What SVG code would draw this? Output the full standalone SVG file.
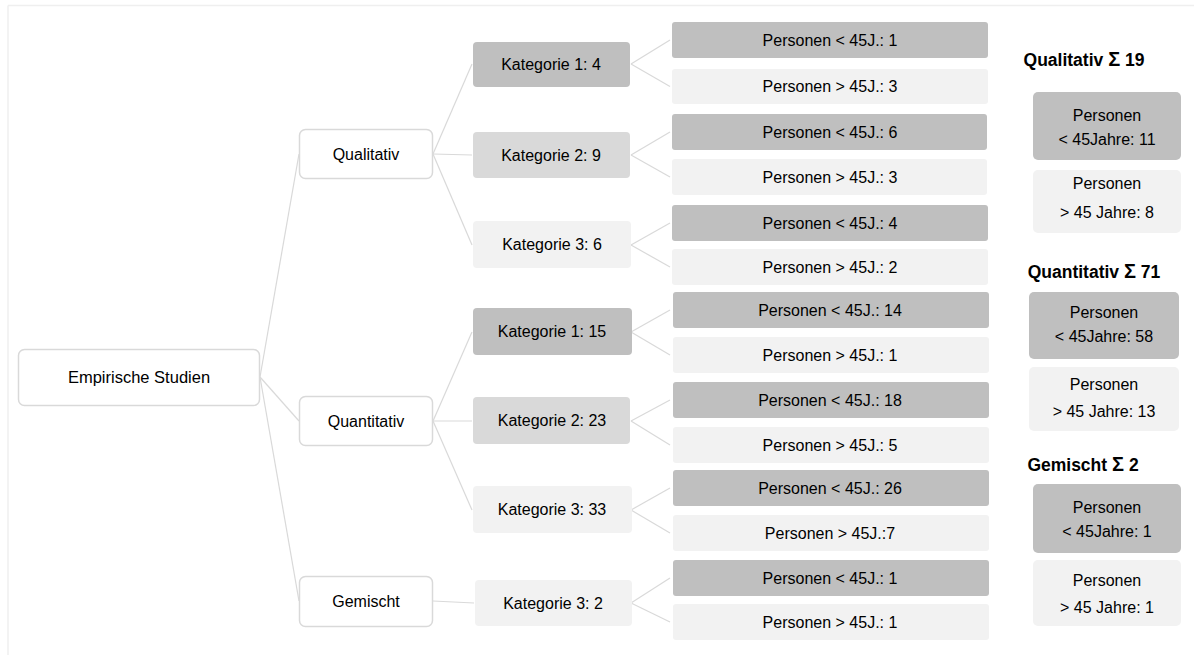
<svg xmlns="http://www.w3.org/2000/svg" width="1194" height="655" viewBox="0 0 1194 655">
<defs>
<style>
.t{font-family:"Liberation Sans",Arial,sans-serif;font-size:16px;fill:#000;text-anchor:middle}
.h{font-family:"Liberation Sans",Arial,sans-serif;font-size:17.5px;font-weight:bold;fill:#000;text-anchor:middle}
.s{font-size:20px}
.w{fill:#fff;stroke:#d9d9d9;stroke-width:1.5}
.d{fill:#bfbfbf}
.m{fill:#d9d9d9}
.l{fill:#f2f2f2}
.c line{stroke:#d9d9d9;stroke-width:1.2}
</style>
</defs>
<rect width="1194" height="655" fill="#fff"/>
<g id="frame" stroke="#efefef" stroke-width="1.5">
<line x1="8" y1="5.5" x2="1194" y2="5.5"/>
<line x1="8" y1="5.5" x2="8" y2="655"/>
</g>
<g id="connectors" class="c">
<line x1="260" y1="377" x2="299" y2="154"/>
<line x1="260" y1="377" x2="299" y2="421"/>
<line x1="260" y1="377" x2="299" y2="601"/>
<line x1="433" y1="154" x2="472" y2="64"/>
<line x1="433" y1="154" x2="472" y2="155"/>
<line x1="433" y1="154" x2="472" y2="245"/>
<line x1="433" y1="421" x2="472" y2="332"/>
<line x1="433" y1="421" x2="472" y2="421"/>
<line x1="433" y1="421" x2="472" y2="510"/>
<line x1="433" y1="601" x2="474" y2="603"/>
<line x1="631" y1="64" x2="670" y2="40"/>
<line x1="631" y1="64" x2="670" y2="86.5"/>
<line x1="631" y1="155" x2="670" y2="132"/>
<line x1="631" y1="155" x2="670" y2="177"/>
<line x1="631" y1="245" x2="670" y2="223"/>
<line x1="631" y1="245" x2="670" y2="267"/>
<line x1="631" y1="332" x2="670" y2="310"/>
<line x1="631" y1="332" x2="670" y2="355"/>
<line x1="631" y1="421" x2="670" y2="400"/>
<line x1="631" y1="421" x2="670" y2="445"/>
<line x1="631" y1="510" x2="670" y2="488"/>
<line x1="631" y1="510" x2="670" y2="533"/>
<line x1="631" y1="603" x2="670" y2="578"/>
<line x1="631" y1="603" x2="670" y2="622"/>
</g>
<g id="root"><rect class="w" x="18.5" y="349.5" width="241" height="56" rx="6"/><text class="t" x="139" y="383" style="font-size:16.5px">Empirische Studien</text></g>
<g id="qual"><rect class="w" x="299.5" y="129.5" width="133" height="49" rx="6"/><text class="t" x="366" y="160">Qualitativ</text></g>
<g id="quant"><rect class="w" x="299.5" y="396.5" width="133" height="49" rx="6"/><text class="t" x="366" y="427">Quantitativ</text></g>
<g id="gem"><rect class="w" x="299.5" y="576.5" width="133" height="50" rx="6"/><text class="t" x="366" y="607">Gemischt</text></g>
<g id="k1q"><rect class="d" x="473" y="42" width="157" height="45" rx="4"/><text class="t" x="551" y="70">Kategorie 1: 4</text></g>
<g id="k2q"><rect class="m" x="473" y="132" width="157" height="46" rx="4"/><text class="t" x="551" y="161">Kategorie 2: 9</text></g>
<g id="k3q"><rect class="l" x="473" y="221" width="158" height="47" rx="4"/><text class="t" x="552" y="250">Kategorie 3: 6</text></g>
<g id="k1n"><rect class="d" x="473" y="308" width="159" height="47" rx="4"/><text class="t" x="552" y="337">Kategorie 1: 15</text></g>
<g id="k2n"><rect class="m" x="473" y="397" width="157" height="47" rx="4"/><text class="t" x="552" y="426">Kategorie 2: 23</text></g>
<g id="k3n"><rect class="l" x="473" y="486" width="159" height="47" rx="4"/><text class="t" x="552" y="515">Kategorie 3: 33</text></g>
<g id="k3g"><rect class="l" x="475" y="580" width="157" height="46" rx="4"/><text class="t" x="553" y="609">Kategorie 3: 2</text></g>
<g id="p1"><rect class="d" x="672" y="22" width="316" height="36" rx="3"/><text class="t" x="830" y="45.5">Personen &lt; 45J.: 1</text></g>
<g id="p2"><rect class="l" x="672" y="69" width="316" height="35" rx="3"/><text class="t" x="830" y="92">Personen &gt; 45J.: 3</text></g>
<g id="p3"><rect class="d" x="672" y="114" width="315" height="36" rx="3"/><text class="t" x="830" y="137.5">Personen &lt; 45J.: 6</text></g>
<g id="p4"><rect class="l" x="672" y="159" width="315" height="36" rx="3"/><text class="t" x="830" y="182.5">Personen &gt; 45J.: 3</text></g>
<g id="p5"><rect class="d" x="672" y="205" width="316" height="36" rx="3"/><text class="t" x="830" y="228.5">Personen &lt; 45J.: 4</text></g>
<g id="p6"><rect class="l" x="672" y="249" width="316" height="36" rx="3"/><text class="t" x="830" y="272.5">Personen &gt; 45J.: 2</text></g>
<g id="p7"><rect class="d" x="673" y="292" width="316" height="36" rx="3"/><text class="t" x="830" y="315.5">Personen &lt; 45J.: 14</text></g>
<g id="p8"><rect class="l" x="673" y="337" width="316" height="36" rx="3"/><text class="t" x="830" y="360.5">Personen &gt; 45J.: 1</text></g>
<g id="p9"><rect class="d" x="673" y="382" width="316" height="36" rx="3"/><text class="t" x="830" y="405.5">Personen &lt; 45J.: 18</text></g>
<g id="p10"><rect class="l" x="673" y="427" width="316" height="36" rx="3"/><text class="t" x="830" y="450.5">Personen &gt; 45J.: 5</text></g>
<g id="p11"><rect class="d" x="673" y="470" width="316" height="36" rx="3"/><text class="t" x="830" y="493.5">Personen &lt; 45J.: 26</text></g>
<g id="p12"><rect class="l" x="673" y="515" width="316" height="36" rx="3"/><text class="t" x="830" y="538.5">Personen &gt; 45J.:7</text></g>
<g id="p13"><rect class="d" x="673" y="560" width="316" height="36" rx="3"/><text class="t" x="830" y="583.5">Personen &lt; 45J.: 1</text></g>
<g id="p14"><rect class="l" x="673" y="604" width="316" height="36" rx="3"/><text class="t" x="830" y="627.5">Personen &gt; 45J.: 1</text></g>
<g id="sumQual"><text class="h" x="1084" y="66">Qualitativ <tspan class="s">Σ</tspan> 19</text>
<rect class="d" x="1033" y="92" width="148" height="68" rx="5"/><text class="t" x="1107" y="121">Personen</text><text class="t" x="1107" y="145">&lt; 45Jahre: 11</text>
<rect class="l" x="1033" y="170" width="148" height="63" rx="5"/><text class="t" x="1107" y="189">Personen</text><text class="t" x="1107" y="218">&gt; 45 Jahre: 8</text></g>
<g id="sumQuant"><text class="h" x="1094" y="278">Quantitativ <tspan class="s">Σ</tspan> 71</text>
<rect class="d" x="1029" y="292" width="150" height="67" rx="5"/><text class="t" x="1104" y="318">Personen</text><text class="t" x="1104" y="342">&lt; 45Jahre: 58</text>
<rect class="l" x="1029" y="367" width="150" height="64" rx="5"/><text class="t" x="1104" y="390">Personen</text><text class="t" x="1104" y="417">&gt; 45 Jahre: 13</text></g>
<g id="sumGem"><text class="h" x="1083" y="471">Gemischt <tspan class="s">Σ</tspan> 2</text>
<rect class="d" x="1033" y="484" width="148" height="69" rx="5"/><text class="t" x="1107" y="513">Personen</text><text class="t" x="1107" y="537">&lt; 45Jahre: 1</text>
<rect class="l" x="1033" y="560" width="148" height="66" rx="5"/><text class="t" x="1107" y="586">Personen</text><text class="t" x="1107" y="613">&gt; 45 Jahre: 1</text></g>
</svg>
